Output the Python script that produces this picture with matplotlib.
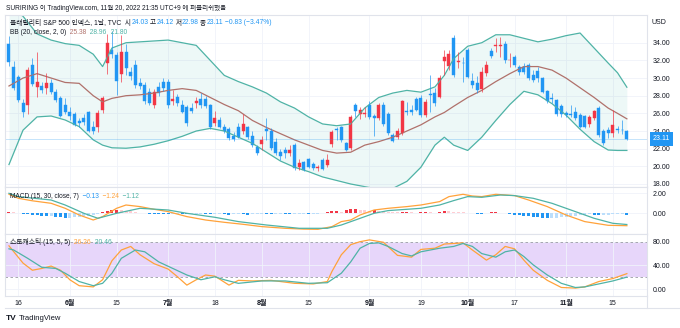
import numpy as np
import matplotlib
matplotlib.use('Agg')
import matplotlib.pyplot as plt
from matplotlib.lines import Line2D
from matplotlib.ticker import FormatStrFormatter
from matplotlib.transforms import blended_transform_factory

plt.rcParams['font.family'] = ['Liberation Sans', 'Noto Sans CJK KR']

# VIX daily candles, 2022-05-12 .. 2022-11-18 (trading days)
opens = [33.9, 31.3, 30.1, 27.2, 26.9, 31.5, 29.0, 29.1, 28.9, 29.4,
         28.4, 27.7, 27.0, 26.2, 25.9, 25.1, 25.5, 26.15, 24.5, 24.4,
         26.4, 31.7, 33.2, 32.6, 30.5, 33.0, 30.7, 31.5, 29.4, 29.2,
         28.45, 27.0, 29.0, 29.6, 29.6, 27.4, 27.9, 26.95, 26.75, 26.6,
         27.2, 27.6, 27.6, 26.95, 24.95, 25.25, 24.4, 24.2, 23.4, 24.5,
         24.0, 24.4, 23.45, 22.2, 22.5, 24.2, 24.0, 22.7, 21.65, 21.85,
         21.55, 22.4, 19.95, 20.45, 20.8, 20.3, 19.85, 20.7, 20.2, 22.5,
         24.25, 24.5, 22.6, 22.1, 27.0, 25.9, 25.95, 27.0, 25.65, 25.5,
         27.0, 25.9, 23.6, 23.35, 23.75, 26.3, 26.35, 27.6, 27.75, 25.8,
         28.15, 28.3, 27.9, 31.95, 31.4, 34.55, 31.85, 31.75, 33.2, 29.65,
         29.4, 28.75, 30.55, 33.05, 33.65, 33.65, 33.8, 32.0, 32.4, 31.3,
         31.3, 31.5, 30.4, 30.8, 29.95, 28.5, 27.75, 27.5, 26.8, 26.0,
         25.95, 26.1, 25.8, 25.7, 24.75, 25.5, 26.65, 24.0, 24.1, 23.75,
         24.25, 24.15, 24.03]
highs = [34.8, 31.9, 30.4, 27.6, 31.3, 32.3, 32.9, 29.5, 30.6, 29.9,
         28.8, 28.0, 27.7, 26.7, 26.2, 25.5, 25.9, 26.3, 25.1, 26.4,
         28.0, 35.0, 35.3, 33.0, 34.9, 33.8, 31.2, 32.0, 30.0, 29.6,
         28.9, 28.8, 29.5, 30.0, 29.9, 28.6, 28.2, 27.5, 27.0, 27.2,
         27.9, 28.3, 28.0, 27.1, 26.3, 25.6, 24.8, 24.4, 23.9, 24.9,
         25.9, 24.6, 24.0, 22.4, 23.4, 25.5, 24.3, 23.2, 22.0, 22.2,
         22.4, 22.6, 20.8, 20.6, 21.0, 20.5, 20.2, 21.0, 21.4, 24.1,
         24.4, 24.6, 22.8, 25.8, 27.2, 26.7, 26.7, 27.4, 25.9, 27.2,
         27.3, 26.1, 23.8, 24.3, 27.5, 27.3, 27.0, 27.8, 28.1, 27.6,
         30.3, 28.9, 30.3, 33.2, 33.2, 34.9, 33.0, 32.4, 33.4, 30.6,
         30.2, 31.2, 31.9, 33.4, 34.5, 34.7, 34.2, 32.8, 32.6, 31.5,
         31.7, 31.7, 30.9, 31.2, 30.1, 28.7, 28.3, 27.6, 27.1, 26.3,
         26.9, 26.7, 26.0, 25.8, 25.8, 26.4, 26.8, 24.2, 24.4, 26.4,
         24.6, 25.3, 24.12]
lows = [31.4, 28.7, 27.3, 25.6, 25.9, 29.1, 27.9, 28.3, 28.2, 28.2,
        27.3, 25.6, 25.9, 25.3, 24.6, 24.4, 24.7, 23.9, 23.7, 23.9,
        26.0, 30.5, 32.3, 28.1, 29.5, 30.3, 29.8, 28.9, 28.8, 27.1,
        26.9, 26.6, 28.0, 28.5, 26.6, 26.9, 26.8, 26.0, 24.6, 26.0,
        26.6, 26.6, 26.6, 24.2, 24.6, 24.3, 23.8, 23.0, 22.9, 23.2,
        23.7, 23.1, 22.2, 21.3, 21.9, 23.0, 21.9, 21.3, 20.7, 21.0,
        21.2, 19.6, 19.6, 19.5, 19.8, 19.6, 19.5, 19.6, 19.9, 22.2,
        23.0, 22.7, 21.7, 21.9, 25.6, 25.4, 25.6, 25.4, 23.4, 25.3,
        24.6, 23.6, 22.7, 23.1, 23.5, 25.8, 25.8, 26.3, 25.6, 25.6,
        26.2, 26.8, 27.7, 30.4, 30.9, 30.1, 31.1, 29.6, 30.0, 28.9,
        28.3, 28.4, 30.2, 32.3, 33.0, 32.4, 31.7, 31.3, 31.2, 30.3,
        30.5, 29.8, 29.5, 29.6, 28.3, 27.2, 27.2, 25.7, 25.6, 25.6,
        25.6, 25.3, 24.3, 24.3, 24.5, 25.2, 23.3, 22.4, 23.2, 23.3,
        23.8, 23.7, 22.98]
closes = [31.77, 28.87, 27.47, 26.10, 30.96, 29.35, 29.6, 28.6, 29.45, 28.37,
          27.50, 25.72, 26.19, 25.69, 24.72, 24.9, 25.07, 24.02, 23.96, 26.09,
          27.75, 34.02, 32.69, 29.62, 32.95, 31.13, 30.19, 29.2, 29.1, 27.4,
          27.15, 28.4, 28.25, 28.85, 26.95, 27.6, 27.15, 26.2, 24.9, 26.25,
          27.4, 27.0, 26.8, 24.5, 25.45, 24.5, 24.0, 23.2, 23.1, 23.35,
          24.8, 23.35, 22.4, 21.5, 23.0, 24.05, 22.05, 21.55, 21.2, 21.5,
          21.9, 19.85, 20.35, 19.6, 19.95, 19.8, 19.95, 19.7, 20.7, 23.9,
          24.15, 23.0, 21.85, 25.6, 26.25, 26.4, 26.05, 25.6, 25.5, 27.0,
          24.75, 23.75, 22.85, 24.0, 27.4, 26.15, 26.2, 26.4, 25.8, 27.25,
          28.05, 27.15, 30.05, 32.35, 32.7, 30.35, 31.95, 31.7, 30.1, 29.2,
          28.65, 30.65, 31.5, 32.5, 33.75, 33.75, 32.05, 32.1, 31.5, 30.65,
          30.7, 30.05, 29.8, 29.95, 28.45, 27.4, 27.6, 25.9, 25.9, 25.85,
          25.85, 25.45, 24.5, 24.5, 25.6, 26.25, 23.55, 22.6, 23.75, 24.7,
          24.1, 24.1, 23.11]
last_chg = -0.83
last_chg_pct = -3.47

# Bollinger bands (20, 2) at these candle indices
bb_idx = [0, 3, 6, 9, 12, 15, 18, 20, 22, 25, 28, 31, 34, 37, 40, 43, 46, 49,
          52, 55, 58, 61, 64, 67, 70, 73, 76, 79, 82, 85, 88, 91, 93, 95, 98,
          101, 104, 107, 110, 113, 116, 119, 122, 125, 128, 130, 132]
bb_upper = [38.0, 37.0, 35.0, 34.3, 33.9, 33.7, 32.7, 31.3, 33.4, 34.0, 34.1,
            34.2, 34.3, 34.0, 33.7, 32.0, 30.3, 29.6, 29.0, 28.3, 27.3, 26.6,
            25.6, 24.8, 24.6, 24.8, 26.6, 27.8, 28.3, 28.6, 28.4, 29.0, 30.3,
            32.2, 33.6, 34.0, 34.9, 34.9, 34.5, 34.1, 34.4, 34.8, 35.1, 33.4,
            31.7, 30.6, 28.96]
bb_basis = [29.1, 30.0, 30.5, 30.0, 29.5, 29.4, 28.0, 27.3, 27.7, 28.0, 28.1,
            28.3, 28.6, 28.8, 28.6, 27.8, 27.0, 26.3, 25.2, 24.4, 23.7, 23.0,
            22.4, 21.8, 21.5, 21.6, 22.4, 22.8, 23.3, 24.0, 24.7, 25.6, 26.1,
            26.8, 27.8, 28.6, 29.6, 30.5, 31.3, 31.3, 30.9, 30.0, 28.9, 27.8,
            26.6, 26.0, 25.38]
bb_lower = [20.2, 24.1, 25.6, 25.7, 25.25, 24.5, 23.0, 22.4, 22.1, 22.05, 22.2,
            22.5, 22.9, 23.4, 24.0, 24.3, 24.0, 23.3, 22.6, 21.6, 20.6, 19.9,
            19.4, 18.8, 18.4, 18.0, 17.7, 17.4, 17.5, 18.3, 19.9, 22.4, 23.3,
            22.4, 21.8, 23.3, 25.2, 27.0, 28.5, 28.1, 27.1, 25.8, 24.2, 22.8,
            21.85, 21.8, 21.8]

# MACD (15, 30, close, 7)
macd_idx = [0, 2, 5, 9, 12, 15, 18, 20, 23, 25, 28, 31, 34, 38, 42, 46, 50, 54,
            59, 63, 66, 69, 71, 73, 75, 78, 81, 85, 88, 92, 94, 97, 99, 101, 104,
            108, 111, 115, 119, 123, 128, 132]
macd_line = [1.9, 1.5, 1.25, 1.0, 0.5, -0.17, -0.67, -0.33, 0.5, 0.83, 0.67,
             0.4, 0.17, -0.33, -0.67, -0.9, -1.1, -1.33, -1.5, -1.58, -1.6,
             -1.33, -0.83, -0.67, -0.17, 0.33, 0.5, 0.67, 0.83, 1.17, 1.67, 1.9,
             1.73, 1.67, 1.9, 1.77, 1.33, 0.67, -0.17, -0.83, -1.2, -1.24]
sig_idx = [0, 2, 9, 12, 16, 19, 23, 28, 34, 38, 44, 49, 55, 62, 68, 71, 74, 78,
           81, 85, 88, 92, 95, 98, 101, 105, 108, 112, 116, 121, 125, 129, 132]
sig_line = [2.0, 1.67, 1.33, 0.83, 0.0, -0.5, 0.0, 0.5, 0.33, 0.0, -0.4, -0.83,
            -1.17, -1.5, -1.5, -1.17, -0.67, 0.0, 0.27, 0.4, 0.5, 0.83, 1.27,
            1.67, 1.6, 1.83, 1.77, 1.5, 1.0, 0.17, -0.5, -1.0, -1.12]
hist = [0.15, 0.1, 0.05, -0.1, -0.12, -0.15, -0.2, -0.25, -0.3, -0.3,
        -0.35, -0.4, -0.45, -0.45, -0.4, -0.35, -0.3, -0.25, -0.2, -0.1,
        0.1, 0.25, 0.3, 0.35, 0.3, 0.25, 0.2, 0.12, 0.06, 0.02,
        -0.04, -0.06, -0.08, -0.1, -0.12, -0.1, -0.08, -0.1, -0.12, -0.1,
        -0.06, -0.05, -0.08, -0.12, -0.1, -0.08, -0.12, -0.14, -0.12, -0.1,
        -0.12, -0.15, -0.12, -0.1, -0.08, -0.1, -0.12, -0.1, -0.08, -0.1,
        -0.12, -0.1, -0.08, -0.06, -0.08, -0.06, -0.04, -0.02, 0.1, 0.2,
        0.2, 0.15, 0.3, 0.4, 0.4, 0.35, 0.3, 0.25, 0.3, 0.2,
        0.15, 0.12, 0.1, 0.08, 0.1, 0.12, 0.08, 0.06, 0.1, 0.12,
        0.08, 0.05, 0.15, 0.2, 0.18, 0.15, 0.12, 0.08, 0.05, 0.02,
        -0.03, -0.05, -0.02, 0.1, 0.1, 0.05, 0.02, -0.1, -0.15, -0.2,
        -0.25, -0.3, -0.35, -0.4, -0.45, -0.5, -0.5, -0.48, -0.42, -0.38,
        -0.32, -0.25, -0.2, -0.15, -0.1, -0.18, -0.22, -0.2, -0.15, -0.12,
        -0.1, -0.08, -0.13]

# Stochastic (15, 5, 5)
k_idx = [0, 3, 5, 7, 9, 11, 13, 15, 18, 20, 21, 22, 24, 26, 28, 31, 34, 36, 38,
         40, 42, 44, 47, 49, 52, 56, 61, 65, 68, 69, 71, 73, 75, 77, 80, 83, 86,
         88, 91, 93, 97, 99, 102, 104, 106, 108, 110, 112, 115, 118, 121, 123,
         126, 129, 132]
k_line = [73, 44, 32, 35, 39, 32, 16, 6, 4, 16, 32, 48, 66, 72, 58, 43, 34, 21,
          7, 16, 24, 22, 7, 15, 14, 15, 10, 9, 13, 30, 58, 75, 80, 83, 79, 57,
          54, 67, 69, 76, 78, 66, 49, 58, 72, 68, 49, 32, 15, 3, 2, 4, 13, 18,
          26.26]
d_idx = [0, 1, 4, 7, 10, 12, 15, 18, 20, 22, 24, 27, 29, 32, 35, 38, 41, 44, 46,
         49, 54, 59, 64, 68, 71, 73, 75, 77, 79, 81, 84, 86, 88, 92, 95, 97, 99,
         101, 104, 106, 108, 110, 112, 115, 118, 121, 123, 126, 129, 132]
d_line = [68, 66, 52, 37, 35, 27, 13, 6, 10, 27, 52, 66, 63, 46, 35, 24, 16, 21,
          16, 10, 14, 14, 10, 11, 27, 46, 69, 77, 78, 72, 60, 56, 63, 69, 72, 77,
          72, 60, 54, 63, 66, 55, 41, 24, 10, 3, 4, 9, 14, 20.46]

tick_idx = [2, 13, 23, 34, 44, 54, 64, 77, 88, 98, 108, 119, 129]
tick_lbl = ['16', '6월', '15', '7월', '18', '8월', '15', '9월', '19', '10월',
            '17', '11월', '15']

W, H = 680, 328
TXT = '#131722'
GRID = '#f0f3fa'
EDGE = '#e0e3eb'
UP = '#f23645'
DN = '#2196f3'
TEAL = '#4fb3a6'
ORANGE = '#ffa23a'
BASIS = '#b0716b'


def px_box(x0, y0, x1, y1):
    return [x0 / W, 1 - y1 / H, (x1 - x0) / W, (y1 - y0) / H]


fig = plt.figure(figsize=(W / 100, H / 100), dpi=100)
fig.patch.set_facecolor('white')
ax_p = fig.add_axes(px_box(5, 15, 647, 187))
ax_m = fig.add_axes(px_box(5, 187, 647, 234), sharex=ax_p)
ax_s = fig.add_axes(px_box(5, 234, 647, 296), sharex=ax_p)

for ax in (ax_p, ax_m, ax_s):
    ax.set_facecolor('white')
    for sp in ax.spines.values():
        sp.set_color(EDGE)
        sp.set_linewidth(0.8)
    ax.yaxis.tick_right()
    ax.tick_params(axis='y', length=0, labelsize=5, labelcolor=TXT, pad=4)
    ax.tick_params(axis='x', length=0, labelsize=5, labelcolor=TXT, pad=3)
    ax.grid(True, color=GRID, lw=0.6)
    ax.set_axisbelow(True)
    ax.yaxis.set_major_formatter(FormatStrFormatter('%.2f'))

ax_p.set_xlim(-0.85, 136.3)
ax_s.set_xticks(tick_idx, tick_lbl)
for lbl in ax_s.get_xticklabels():
    if '월' in lbl.get_text():
        lbl.set_fontweight('bold')
ax_p.tick_params(labelbottom=False)
ax_m.tick_params(labelbottom=False)

# price pane
o = np.array(opens); h = np.array(highs); l = np.array(lows); c = np.array(closes)
x = np.arange(len(c))
col = np.where(c >= o, UP, DN)
ax_p.fill_between(bb_idx, bb_lower, bb_upper, color=(0.15, 0.65, 0.6, 0.08), lw=0)
ax_p.plot(bb_idx, bb_upper, color=TEAL, lw=0.9)
ax_p.plot(bb_idx, bb_lower, color=TEAL, lw=0.9)
ax_p.plot(bb_idx, bb_basis, color=BASIS, lw=0.9)
ax_p.axhline(c[-1], color=DN, lw=0.6, alpha=0.3)
ax_p.vlines(x, l, h, colors=col, lw=0.6, alpha=0.8)
ax_p.bar(x, c - o, bottom=o, width=0.64, color=col, edgecolor=col, lw=0.3)
ax_p.set_ylim(17.66, 37.14)
ax_p.set_yticks(np.arange(18, 35, 2))
tr = blended_transform_factory(ax_p.transAxes, ax_p.transData)
ax_p.text(1 + 6 / 642, c[-1], f'{c[-1]:.2f}', transform=tr, ha='left', va='center',
          fontsize=5, color='white', clip_on=False,
          bbox=dict(boxstyle='square,pad=0.45', fc=DN, ec='none'))

# MACD pane
hv = np.array(hist)
prev = np.r_[hv[0], hv[:-1]]
hcol = np.where(hv >= 0, np.where(hv >= prev, '#f23645', '#ffcdd2'),
                np.where(hv < prev, '#2196f3', '#bbdefb'))
ax_m.bar(x, hv, width=0.64, color=hcol, lw=0)
ax_m.plot(macd_idx, macd_line, color=ORANGE, lw=0.9)
ax_m.plot(sig_idx, sig_line, color=TEAL, lw=0.9)
ax_m.set_ylim(-2.07, 2.63)
ax_m.set_yticks([0, 2])

# Stochastic pane
ax_s.axhspan(20, 80, color='#e7d6fa', lw=0, zorder=0.3)
for lv in (20, 80):
    ax_s.axhline(lv, color='#9a9ba3', lw=0.6, ls=(0, (3, 3)))
ax_s.plot(k_idx, k_line, color=ORANGE, lw=0.9)
ax_s.plot(d_idx, d_line, color=TEAL, lw=0.9)
ax_s.set_ylim(-11.3, 92.9)
ax_s.set_yticks([0, 40, 80])

# frame lines of the bottom strip
fig.add_artist(Line2D([5 / W, 1], [1 - 308 / H] * 2, color=EDGE, lw=0.8))
fig.add_artist(Line2D([647 / W] * 2, [1 - 296 / H, 1 - 308 / H], color=EDGE, lw=0.8))

fig.canvas.draw()
renderer = fig.canvas.get_renderer()


def put_parts(x_px, y_px, parts, size, gap=0.0):
    for s, colr in parts:
        t = fig.text(x_px / W, 1 - y_px / H, s, color=colr, fontsize=size,
                     ha='left', va='center')
        x_px += t.get_window_extent(renderer).width + gap


BLUE_TXT = '#2196f3'
put_parts(6, 8, [('SURIRING 이 TradingView.com, 11월 20, 2022 21:35 UTC+9 에 퍼블리쉬했음', TXT)], 4.7)
put_parts(10, 23, [('볼래틸리티 S&P 500 인덱스, 1날, TVC', TXT),
                   ('  시', TXT), (f'{o[-1]:.2f}', BLUE_TXT),
                   (' 고', TXT), (f'{h[-1]:.2f}', BLUE_TXT),
                   (' 저', TXT), (f'{l[-1]:.2f}', BLUE_TXT),
                   (' 종', TXT), (f'{c[-1]:.2f}', BLUE_TXT),
                   (f' −{abs(last_chg):.2f} (−{abs(last_chg_pct):.2f}%)', BLUE_TXT)], 4.9)
put_parts(10, 33, [('BB (20, close, 2, 0)', TXT), (f'  {bb_basis[-1]:.2f}', BASIS),
                   (f'  {bb_upper[-1]:.2f}', TEAL), (f'  {bb_lower[-1]:.2f}', TEAL)], 4.8)
put_parts(10, 197, [('MACD (15, 30, close, 7)', TXT), ('  −0.13', BLUE_TXT),
                    (f'  −{abs(macd_line[-1]):.2f}', ORANGE),
                    (f'  −{abs(sig_line[-1]):.2f}', TEAL)], 4.7)
put_parts(10, 242, [('스토캐스틱 (15, 5, 5)', TXT), (f'  {k_line[-1]:.2f}', ORANGE),
                    (f'  {d_line[-1]:.2f}', TEAL)], 4.9)
fig.text(652 / W, 1 - 22 / H, 'USD', fontsize=5, color=TXT, va='center')
fig.text(6 / W, 1 - 318 / H, 'TV', fontsize=6, fontweight='bold', color=TXT, va='center')
fig.text(19 / W, 1 - 318 / H, 'TradingView', fontsize=5.5, color=TXT, va='center')

fig.savefig('out.png', dpi=100, facecolor='white')
